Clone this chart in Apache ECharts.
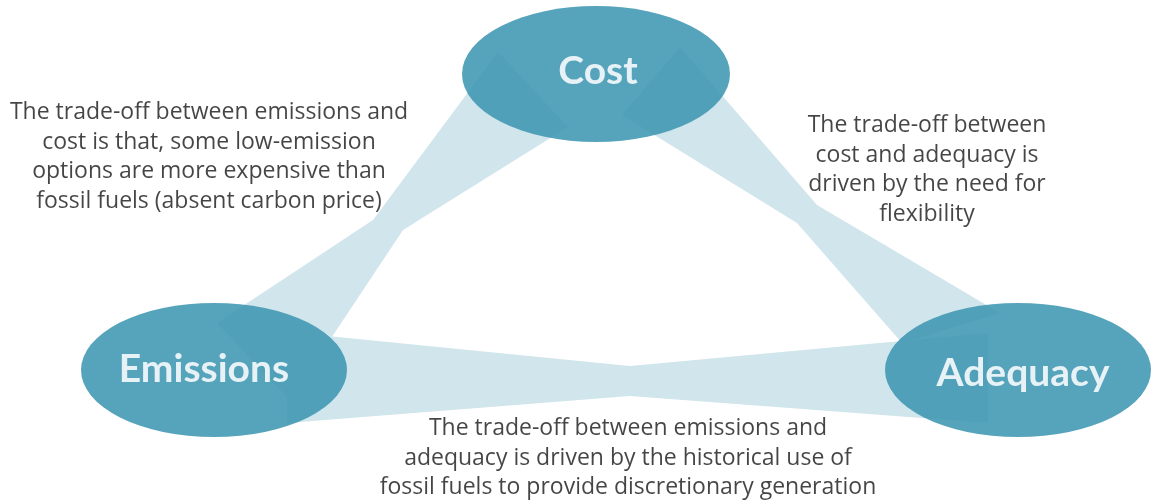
<!DOCTYPE html>
<html>
<head>
<meta charset="utf-8">
<script src="https://cdn.jsdelivr.net/npm/echarts@6/dist/echarts.min.js"></script>
<style>
html,body{margin:0;padding:0;background:#fff;}
#chart{width:1151px;height:501px;}
</style>
</head>
<body>
<div id="chart"></div>
<script>
// ---- data ----
const nodeNames = ['Cost', 'Emissions', 'Adequacy'];
const nodeX = [596, 214, 1018];
const nodeY = [74, 370, 370];
const nodeW = [268, 266, 266];
const nodeH = [136, 134, 134];

const bandNames = ['Cost–Emissions', 'Cost–Adequacy', 'Emissions–Adequacy'];
const bandCostEmissions = [[498, 52], [373, 220], [217, 323], [290, 400], [403, 230], [568, 127]];
const bandCostAdequacy = [[680, 47], [817, 205], [1000, 313], [902, 343], [797, 223], [622, 115]];
const bandEmissionsAdequacy = [[287, 332], [630, 366], [988, 333], [988, 423], [630, 396], [287, 423]];

const noteTexts = [
  'The trade-off between emissions and\ncost is that, some low-emission\noptions are more expensive than\nfossil fuels (absent carbon price)',
  'The trade-off between\ncost and adequacy is\ndriven by the need for\nflexibility',
  'The trade-off between emissions and\nadequacy is driven by the historical use of\nfossil fuels to provide discretionary generation'
];
const noteX = [209, 927, 628];
const noteY = [157, 170, 458];

// ---- chart ----
const bandPolys = [bandCostEmissions, bandCostAdequacy, bandEmissionsAdequacy];
const labelOffsets = [[2, -3], [-10, -1], [5, 3]];
const chart = echarts.init(document.getElementById('chart'), null, {renderer: 'canvas'});

chart.setOption({
  animation: false,
  backgroundColor: '#ffffff',
  grid: {left: 0, right: 0, top: 0, bottom: 0},
  xAxis: {type: 'value', min: 0, max: 1151, show: false},
  yAxis: {type: 'value', min: 0, max: 501, inverse: true, show: false},
  series: [
    {
      type: 'custom',
      name: 'bands',
      clip: false,
      z: 1,
      data: bandNames.map((n, i) => ({name: n, value: [i, i]})),
      renderItem: function (params, api) {
        const pts = bandPolys[params.dataIndex].map(p => api.coord(p));
        return {
          type: 'polygon',
          shape: {points: pts},
          style: {fill: '#d1e5ec'}
        };
      }
    },
    {
      type: 'scatter',
      name: 'nodes',
      z: 3,
      symbol: 'circle',
      data: nodeNames.map((n, i) => ({
        name: n,
        value: [nodeX[i], nodeY[i]],
        symbolSize: [nodeW[i], nodeH[i]],
        label: {offset: labelOffsets[i]}
      })),
      itemStyle: {color: 'rgb(58,148,177)', opacity: 0.86},
      label: {
        show: true,
        position: 'inside',
        formatter: '{b}',
        color: '#ffffff',
        fontFamily: 'Lato',
        fontWeight: 'bold',
        fontSize: 39
      },
      emphasis: {disabled: true}
    },
    {
      type: 'scatter',
      name: 'notes',
      z: 4,
      symbolSize: 1,
      itemStyle: {color: 'rgba(0,0,0,0)'},
      data: noteTexts.map((t, i) => ({name: t, value: [noteX[i], noteY[i]]})),
      label: {
        show: true,
        position: 'inside',
        formatter: '{b}',
        color: '#161616',
        fontFamily: 'Open Sans',
        fontSize: 23,
        lineHeight: 29.7,
        align: 'center',
        verticalAlign: 'middle'
      },
      emphasis: {disabled: true}
    }
  ]
});
</script>
</body>
</html>
